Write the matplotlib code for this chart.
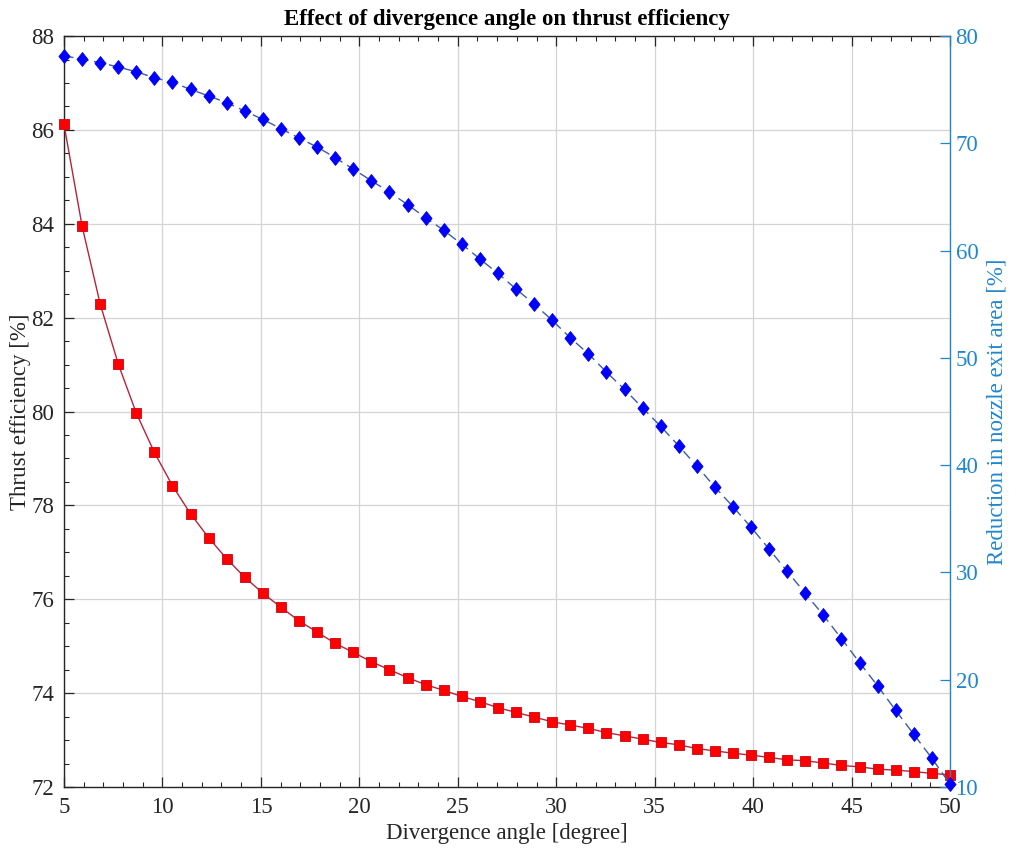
import matplotlib
matplotlib.use('Agg')
import matplotlib.pyplot as plt
from matplotlib.ticker import MultipleLocator

plt.rcParams['font.family'] = ['Liberation Serif', 'DejaVu Serif']

# divergence angle [deg], 50 samples from 5 to 50
angle = [5.00, 5.92, 6.84, 7.76, 8.67, 9.59, 10.51, 11.43, 12.35, 13.27,
         14.18, 15.10, 16.02, 16.94, 17.86, 18.78, 19.69, 20.61, 21.53, 22.45,
         23.37, 24.29, 25.20, 26.12, 27.04, 27.96, 28.88, 29.80, 30.71, 31.63,
         32.55, 33.47, 34.39, 35.31, 36.22, 37.14, 38.06, 38.98, 39.90, 40.82,
         41.73, 42.65, 43.57, 44.49, 45.41, 46.33, 47.24, 48.16, 49.08, 50.00]

# thrust efficiency [%]
efficiency = [86.12, 83.95, 82.29, 81.01, 79.97, 79.13, 78.42, 77.82, 77.31, 76.86,
              76.47, 76.13, 75.83, 75.54, 75.30, 75.06, 74.87, 74.67, 74.50, 74.33,
              74.18, 74.06, 73.93, 73.82, 73.69, 73.59, 73.49, 73.39, 73.32, 73.25,
              73.16, 73.09, 73.02, 72.95, 72.90, 72.82, 72.77, 72.72, 72.68, 72.63,
              72.58, 72.56, 72.51, 72.46, 72.43, 72.38, 72.36, 72.33, 72.29, 72.26]

# reduction in nozzle exit area [%]
area_red = [78.17, 77.83, 77.52, 77.11, 76.67, 76.12, 75.68, 75.03, 74.41, 73.79,
            73.01, 72.23, 71.37, 70.49, 69.65, 68.66, 67.60, 66.52, 65.46, 64.28,
            63.07, 61.89, 60.61, 59.22, 57.88, 56.42, 55.02, 53.50, 51.88, 50.39,
            48.68, 47.07, 45.33, 43.62, 41.80, 39.92, 37.96, 36.13, 34.21, 32.16,
            30.11, 28.06, 26.01, 23.83, 21.59, 19.42, 17.15, 14.92, 12.68, 10.28]

dark = '#262626'
rblue = '#1f87d0'
diamond = [(0, 1), (0.8, 0), (0, -1), (-0.8, 0), (0, 1)]

fig = plt.figure(figsize=(10.09, 8.48), dpi=100)
ax = fig.add_axes([0.0634, 0.0719, 0.8781, 0.8856])
ax2 = ax.twinx()

ax.plot(angle, efficiency, color='#b8233c', lw=1.0, marker='s', ms=6.5,
        mfc='#ff0000', mec='#d00010', mew=0.6, zorder=3, clip_on=False)
ax2.plot(angle, area_red, color='#3a5ca8', lw=1.0, ls=(0, (7, 4)), marker=diamond, ms=10,
         mfc='#0000ff', mec='#0000ee', mew=0.6, zorder=3, clip_on=False)

ax.set_xlim(5, 50)
ax.set_ylim(72, 88)
ax2.set_ylim(10, 80)
ax.xaxis.set_major_locator(MultipleLocator(5))
ax.xaxis.set_minor_locator(MultipleLocator(1))
ax.yaxis.set_major_locator(MultipleLocator(2))
ax.yaxis.set_minor_locator(MultipleLocator(0.5))
ax2.yaxis.set_major_locator(MultipleLocator(10))

ax.grid(True, which='major', color='#d4d4d4', lw=0.9)
ax.set_axisbelow(True)

ax.tick_params(which='both', direction='in', top=True, right=False, colors=dark,
               labelsize=16.5, pad=7)
ax.tick_params(which='major', length=7, width=0.9)
ax.tick_params(which='minor', length=3.5, width=0.8)
ax2.tick_params(which='both', direction='in', colors=rblue, labelsize=16.5,
                length=7, width=0.9, pad=4)
ax2.yaxis.set_minor_locator(plt.NullLocator())

for s in ['left', 'bottom', 'top']:
    ax.spines[s].set_color(dark)
    ax.spines[s].set_linewidth(1.0)
for s in ['left', 'bottom', 'top']:
    ax2.spines[s].set_visible(False)
ax.spines['right'].set_visible(False)
ax2.spines['right'].set_color(rblue)
ax2.spines['right'].set_linewidth(1.0)

ax.set_xlabel('Divergence angle [degree]', fontsize=16.5, color=dark, labelpad=4)
ax.set_ylabel('Thrust efficiency [%]', fontsize=16.5, color=dark, labelpad=0)
ax2.set_ylabel('Reduction in nozzle exit area [%]', fontsize=16.5, color=rblue, labelpad=6)
ax.set_title('Effect of divergence angle on thrust efficiency', fontsize=16.5,
             fontweight='bold', color='black', pad=8)

fig.savefig('out.png', dpi=100)
